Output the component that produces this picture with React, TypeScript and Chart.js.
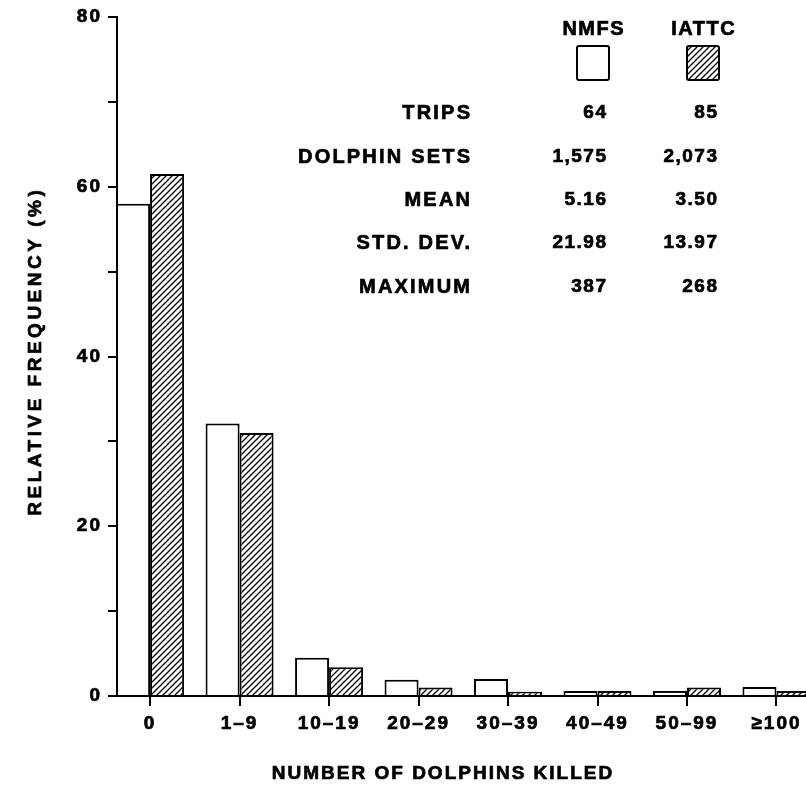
import React, { useEffect, useRef } from 'react';
import { Chart, registerables } from 'chart.js';

Chart.register(...registerables);

const categories = ['0', '1–9', '10–19', '20–29', '30–39', '40–49', '50–99', '≥100'];
const nmfsValues = [58.0, 32.1, 4.5, 1.9, 2.0, 0.6, 0.6, 1.05];
const iattcValues = [61.5, 31.0, 3.4, 1.0, 0.5, 0.6, 1.0, 0.6];
const yTickLabels = [0, 20, 40, 60, 80];
const seriesNames = ['NMFS', 'IATTC'];
const statLabels = ['TRIPS', 'DOLPHIN SETS', 'MEAN', 'STD. DEV.', 'MAXIMUM'];
const nmfsStats = ['64', '1,575', '5.16', '21.98', '387'];
const iattcStats = ['85', '2,073', '3.50', '13.97', '268'];
const xTitle = 'NUMBER OF DOLPHINS KILLED';
const yTitle = 'RELATIVE FREQUENCY (%)';

const FONT = '"Liberation Sans", Arial, Helvetica, sans-serif';

function makeHatch(ctx: CanvasRenderingContext2D): CanvasPattern {
  const s = 6;
  const c = document.createElement('canvas');
  c.width = s;
  c.height = s;
  const g = c.getContext('2d')!;
  g.fillStyle = '#fff';
  g.fillRect(0, 0, s, s);
  g.strokeStyle = '#000';
  g.lineWidth = 1.3;
  g.beginPath();
  g.moveTo(0, s);
  g.lineTo(s, 0);
  g.moveTo(-s / 2, s / 2);
  g.lineTo(s / 2, -s / 2);
  g.moveTo(s / 2, s * 1.5);
  g.lineTo(s * 1.5, s / 2);
  g.stroke();
  return ctx.createPattern(c, 'repeat')!;
}

function drawText(
  ctx: CanvasRenderingContext2D,
  s: string,
  x: number,
  y: number,
  size: number,
  align: 'left' | 'right' | 'center',
  spacing: number
) {
  ctx.save();
  ctx.font = `bold ${size}px ${FONT}`;
  (ctx as any).letterSpacing = spacing + 'px';
  ctx.fillStyle = '#000';
  ctx.strokeStyle = '#000';
  ctx.lineWidth = 0.7;
  ctx.textBaseline = 'middle';
  ctx.textAlign = 'left';
  const w = ctx.measureText(s).width - spacing;
  let x0 = x;
  if (align === 'right') x0 = x - w;
  else if (align === 'center') x0 = x - w / 2;
  ctx.fillText(s, x0, y);
  ctx.strokeText(s, x0, y);
  ctx.restore();
}

export default function App() {
  const ref = useRef<HTMLCanvasElement | null>(null);

  useEffect(() => {
    const canvas = ref.current!;
    const ctx = canvas.getContext('2d')!;
    const hatch = makeHatch(ctx);

    const decor = {
      id: 'decor',
      beforeDraw(chart: any) {
        (chart.ctx as any).letterSpacing = '2px';
      },
      afterDraw(chart: any) {
        const c: CanvasRenderingContext2D = chart.ctx;
        (c as any).letterSpacing = '0px';
        // legend headers and swatches
        const cols = [593, 703];
        drawText(c, seriesNames[0], cols[0], 29, 20, 'center', 1.5);
        drawText(c, seriesNames[1], cols[1], 29, 20, 'center', 1.5);
        c.save();
        c.lineWidth = 2;
        c.strokeStyle = '#000';
        c.fillStyle = '#fff';
        c.beginPath();
        c.roundRect(cols[0] - 16, 46, 32, 34, 2);
        c.fill();
        c.stroke();
        c.fillStyle = hatch;
        c.beginPath();
        c.roundRect(cols[1] - 16, 46, 32, 34, 2);
        c.fill();
        c.stroke();
        c.restore();
        // stats table
        const rowY = [113, 157, 200, 243, 287];
        statLabels.forEach((lab, i) => {
          drawText(c, lab, 470, rowY[i], 20, 'right', 2.2);
          drawText(c, nmfsStats[i], 606, rowY[i], 19, 'right', 1.5);
          drawText(c, iattcStats[i], 717, rowY[i], 19, 'right', 1.5);
        });
        // axis titles
        drawText(c, xTitle, 442, 774, 19, 'center', 2);
        c.save();
        c.translate(36, 353);
        c.rotate(-Math.PI / 2);
        drawText(c, yTitle, 0, 0, 19, 'center', 3.5);
        c.restore();
      },
    };

    const tickFont = { family: FONT, size: 19, weight: 'bold' as const };

    const chart = new Chart(canvas, {
      type: 'bar',
      data: {
        datasets: [
          {
            label: seriesNames[0],
            data: nmfsValues.map((v, i) => ({ x: i, y: v })),
            backgroundColor: '#fff',
            borderColor: '#000',
            borderWidth: 2,
            barPercentage: 1,
            categoryPercentage: 0.76,
          },
          {
            label: seriesNames[1],
            data: iattcValues.map((v, i) => ({ x: i, y: v })),
            backgroundColor: hatch,
            borderColor: '#000',
            borderWidth: 2,
            barPercentage: 1,
            categoryPercentage: 0.76,
          },
        ],
      },
      options: {
        animation: false,
        responsive: false,
        layout: { padding: { top: 17, left: 0, right: 0, bottom: 0 } },
        plugins: {
          legend: { display: false },
          tooltip: { enabled: false },
        },
        scales: {
          x: {
            type: 'linear',
            min: -0.37,
            max: 7.33,
            offset: false,
            grid: {
              offset: false,
              drawOnChartArea: false,
              drawTicks: true,
              tickLength: 10,
              color: '#000',
              lineWidth: 2,
            },
            border: { color: '#000', width: 2 },
            ticks: {
              stepSize: 1,
              includeBounds: false,
              autoSkip: false,
              maxRotation: 0,
              padding: 6,
              color: '#000',
              textStrokeColor: '#000',
              textStrokeWidth: 0.7,
              font: tickFont,
              callback: (v: any) => categories[v] ?? '',
            },
            afterFit: (s: any) => {
              s.height = 91;
              s.paddingLeft = 0;
              s.paddingRight = 0;
            },
          } as any,
          y: {
            min: 0,
            max: 80,
            grid: { drawOnChartArea: false, drawTicks: true, tickLength: 9, color: '#000', lineWidth: 2 },
            border: { color: '#000', width: 2 },
            ticks: {
              stepSize: 10,
              padding: 6,
              color: '#000',
              textStrokeColor: '#000',
              textStrokeWidth: 0.7,
              font: tickFont,
              callback: (v: any) => (yTickLabels.includes(v) ? String(v) : ''),
            },
            afterFit: (s: any) => {
              s.width = 117;
              s.paddingTop = 0;
              s.paddingBottom = 0;
            },
          } as any,
        },
      },
      plugins: [decor],
    });

    return () => chart.destroy();
  }, []);

  return (
    <div style={{ position: 'absolute', left: 0, top: 0, width: 806, height: 787, background: '#fff' }}>
      <canvas ref={ref} width={806} height={787} style={{ display: 'block' }} />
    </div>
  );
}
